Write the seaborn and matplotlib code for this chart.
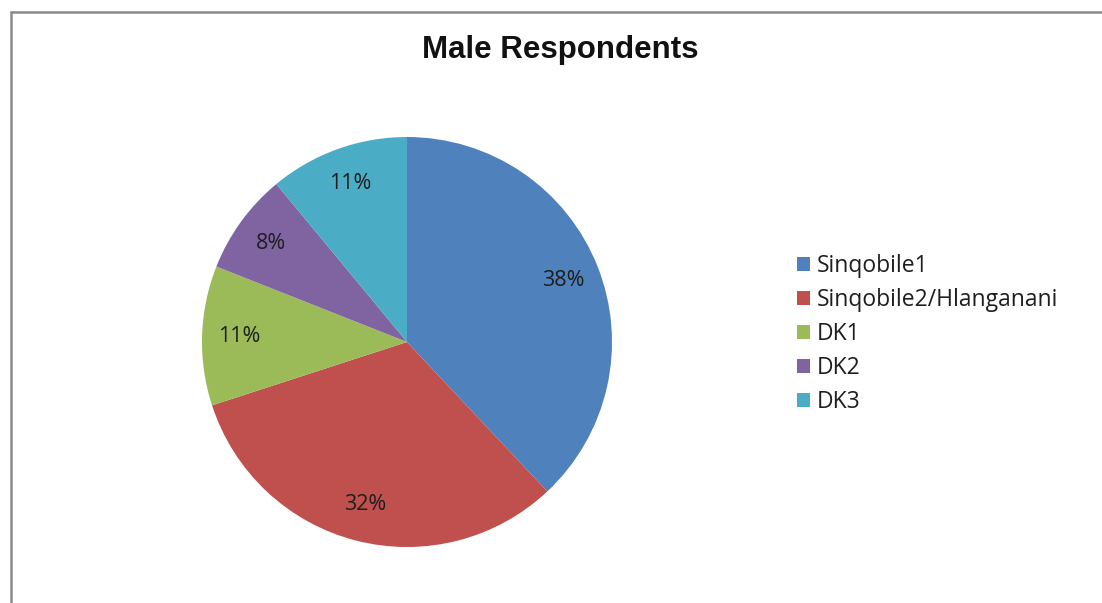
import matplotlib
matplotlib.use("Agg")
import matplotlib.pyplot as plt
from matplotlib.lines import Line2D
import seaborn as sns

categories = ["Sinqobile1", "Sinqobile2/Hlanganani", "DK1", "DK2", "DK3"]
values = [38, 32, 11, 8, 11]
pct_labels = ["38%", "32%", "11%", "8%", "11%"]
colors = ["#4F81BD", "#C0504D", "#9BBB59", "#8064A2", "#4BACC6"]

sns.set_theme(style="white")
plt.rcParams['font.family'] = ['Open Sans', 'DejaVu Sans']
palette = sns.color_palette(colors)

W, H = 1102, 603
fig = plt.figure(figsize=(W / 100, H / 100), dpi=100)
fig.patch.set_facecolor("white")

cx, cy, r = 407, 342, 205
ax = fig.add_axes([(cx - r) / W, (H - cy - r) / H, 2 * r / W, 2 * r / H])
wedges, texts = ax.pie(values, colors=palette, startangle=90, counterclock=False,
                       labels=pct_labels, labeldistance=0.82,
                       textprops=dict(fontsize=15.5, color="#1e1e1e"),
                       wedgeprops=dict(linewidth=0))
for t in texts:
    t.set_ha("center")
    t.set_va("center")
ax.set_aspect("equal")
ax.set_xlim(-1, 1)
ax.set_ylim(-1, 1)
ax.axis("off")

fig.text(560 / W, 1 - 50 / H, "Male Respondents", ha="center", va="center",
         fontsize=22.5, fontweight="bold", color="#111111",
         family=["Liberation Sans", "DejaVu Sans"])

fig.legend(wedges, categories, loc="center left",
           bbox_to_anchor=(788 / W, 1 - 334 / H), frameon=False,
           fontsize=16.5, handlelength=0.55, handleheight=0.55,
           handletextpad=0.3, labelspacing=0.43, borderaxespad=0,
           labelcolor="#1e1e1e")

# chart-area frame (left and top edges visible)
fig.add_artist(Line2D([10.5 / W, 10.5 / W], [0, 1 - 11.5 / H], transform=fig.transFigure,
                      color="#8a8a8a", linewidth=1.8))
fig.add_artist(Line2D([10.5 / W, 1], [1 - 11.5 / H, 1 - 11.5 / H], transform=fig.transFigure,
                      color="#8a8a8a", linewidth=1.8))

fig.savefig("out.png", dpi=100, facecolor="white")
